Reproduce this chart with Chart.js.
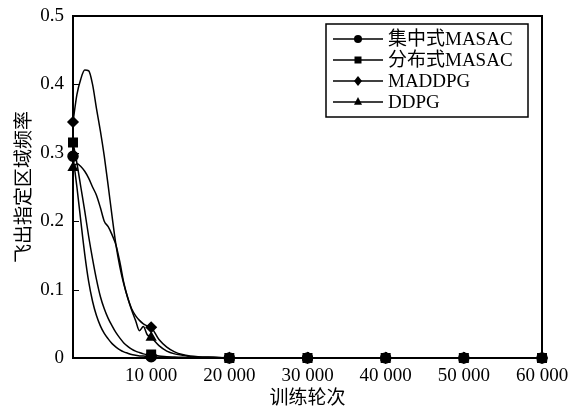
<!DOCTYPE html>
<html>
<head>
<meta charset="UTF-8">
<title>飞出指定区域频率</title>
<script src="https://cdn.jsdelivr.net/npm/chart.js@4.4.1/dist/chart.umd.min.js"></script>
<style>
    html, body { margin: 0; padding: 0; background: #fff; }
    #wrap { width: 568px; height: 409px; position: relative; }
</style>
</head>
<body>
<div id="wrap"><canvas id="freqChart"></canvas></div>
<script>
// 训练轮次
const rounds = [0, 500, 1000, 1500, 2000, 2500, 3000, 3500, 4000, 4500, 5000, 5500, 6000, 6500, 7000,
    7500, 8000, 8500, 9000, 9500, 10000, 11000, 12000, 13000, 14000, 15000, 16000, 18000, 20000,
    30000, 40000, 50000, 60000];

// 飞出指定区域频率
const centralMasac = [0.295, 0.25, 0.20, 0.152, 0.112, 0.083, 0.062, 0.047, 0.036, 0.028, 0.021, 0.016,
    0.012, 0.009, 0.007, 0.005, 0.004, 0.003, 0.003, 0.002, 0.002, 0.001, 0.001, 0.001, 0, 0, 0, 0, 0,
    0, 0, 0, 0];
const distMasac = [0.315, 0.285, 0.25, 0.215, 0.178, 0.145, 0.115, 0.09, 0.072, 0.058, 0.047, 0.037,
    0.029, 0.022, 0.017, 0.013, 0.01, 0.008, 0.006, 0.005, 0.005, 0.003, 0.002, 0.001, 0.001, 0, 0, 0, 0,
    0, 0, 0, 0];
const maddpg = [0.345, 0.385, 0.408, 0.421, 0.42, 0.4, 0.365, 0.332, 0.295, 0.252, 0.207, 0.165,
    0.133, 0.108, 0.088, 0.072, 0.062, 0.055, 0.05, 0.047, 0.045, 0.027, 0.016, 0.009, 0.005, 0.003,
    0.002, 0.001, 0, 0, 0, 0, 0];
const ddpg = [0.278, 0.284, 0.28, 0.273, 0.263, 0.25, 0.238, 0.22, 0.2, 0.192, 0.18, 0.165,
    0.14, 0.11, 0.088, 0.07, 0.055, 0.04, 0.046, 0.034, 0.03, 0.018, 0.01, 0.006, 0.004, 0.002,
    0.001, 0.001, 0, 0, 0, 0, 0];

const seriesNames = ['集中式MASAC', '分布式MASAC', 'MADDPG', 'DDPG'];
const seriesValues = [centralMasac, distMasac, maddpg, ddpg];
const markers = ['circle', 'rect', 'rectRot', 'triangle'];

const yTicks = [0, 0.1, 0.2, 0.3, 0.4, 0.5];
const yTickLabels = ['0', '0.1', '0.2', '0.3', '0.4', '0.5'];
const xTicks = [0, 10000, 20000, 30000, 40000, 50000, 60000];
const xTickLabels = ['', '10 000', '20 000', '30 000', '40 000', '50 000', '60 000'];

const serif = "'Liberation Serif', 'Times New Roman', serif";
const mixed = "'Liberation Serif', 'Noto Sans CJK SC', serif";

function markerSize(style) {
    return style === 'rect' ? 6 : 5;
}

// legend shapes, drawn by hand
function drawMarker(ctx, style, x, y, r) {
    ctx.beginPath();
    if (style === 'circle') {
        ctx.arc(x, y, r, 0, Math.PI * 2);
    } else if (style === 'rect') {
        ctx.rect(x - r, y - r, 2 * r, 2 * r);
    } else if (style === 'rectRot') {
        ctx.moveTo(x, y - r - 1); ctx.lineTo(x + r, y); ctx.lineTo(x, y + r + 1); ctx.lineTo(x - r, y);
        ctx.closePath();
    } else {
        ctx.moveTo(x, y - r - 1); ctx.lineTo(x + r, y + r * 0.7); ctx.lineTo(x - r, y + r * 0.7);
        ctx.closePath();
    }
    ctx.fill();
}

const framePlugin = {
    id: 'frame',
    beforeDatasetsDraw(chart) {
        const { ctx, chartArea: a, scales } = chart;
        ctx.save();
        ctx.strokeStyle = '#000';
        ctx.lineWidth = 2;
        ctx.strokeRect(a.left, a.top, a.right - a.left, a.bottom - a.top);
        // inward ticks
        ctx.lineWidth = 1;
        ctx.beginPath();
        yTicks.slice(1, -1).forEach(v => {
            const py = Math.round(scales.y.getPixelForValue(v)) + 0.5;
            ctx.moveTo(a.left, py); ctx.lineTo(a.left + 6, py);
        });
        xTicks.slice(1, -1).forEach(v => {
            const px = Math.round(scales.x.getPixelForValue(v)) + 0.5;
            ctx.moveTo(px, a.bottom); ctx.lineTo(px, a.bottom - 6);
        });
        ctx.stroke();
        ctx.restore();
    },
    afterDraw(chart) {
        const { ctx, chartArea: a } = chart;
        ctx.save();
        // axis titles
        ctx.fillStyle = '#000';
        ctx.textAlign = 'center';
        ctx.textBaseline = 'middle';
        ctx.font = "19px 'Noto Sans CJK SC', sans-serif";
        ctx.fillText('训练轮次', (a.left + a.right) / 2, 397);
        ctx.save();
        ctx.translate(22.5, (a.top + a.bottom) / 2);
        ctx.rotate(-Math.PI / 2);
        ctx.fillText('飞出指定区域频率', 0, 0);
        ctx.restore();

        // legend box
        const bx = 326, by = 24, bw = 202, bh = 93;
        ctx.fillStyle = '#fff';
        ctx.fillRect(bx, by, bw, bh);
        ctx.strokeStyle = '#000';
        ctx.lineWidth = 1.5;
        ctx.strokeRect(bx, by, bw, bh);
        ctx.textAlign = 'left';
        ctx.font = '19px ' + mixed;
        seriesNames.forEach((name, i) => {
            const y = 39 + i * 21;
            ctx.beginPath();
            ctx.lineWidth = 1.5;
            ctx.moveTo(333, y); ctx.lineTo(383, y);
            ctx.stroke();
            ctx.fillStyle = '#000';
            drawMarker(ctx, markers[i], 358, y, markers[i] === 'rect' ? 3.5 : 4);
            ctx.fillText(name, 388, y + 1);
        });
        ctx.restore();
    }
};

const datasets = seriesNames.map((name, i) => ({
    label: name,
    data: rounds.map((r, j) => ({ x: r, y: seriesValues[i][j] })),
    borderColor: '#000',
    backgroundColor: '#000',
    borderWidth: 1.5,
    cubicInterpolationMode: 'monotone',
    pointStyle: markers[i],
    pointRadius: c => (rounds[c.dataIndex] % 10000 === 0 ? markerSize(markers[i]) : 0),
    pointHoverRadius: 0,
    clip: false
}));

new Chart(document.getElementById('freqChart'), {
    type: 'line',
    data: { datasets },
    options: {
        responsive: true,
        maintainAspectRatio: false,
        animation: false,
        layout: { padding: { left: 0, right: 26, top: 16, bottom: 0 } },
        plugins: {
            legend: { display: false },
            tooltip: { enabled: false }
        },
        scales: {
            x: {
                type: 'linear',
                min: 0,
                max: 60000,
                afterBuildTicks: s => { s.ticks = xTicks.map(v => ({ value: v })); },
                afterFit: s => { s.height = 51; s.paddingLeft = 0; s.paddingRight = 0; },
                grid: { display: false, drawTicks: false, tickLength: 0 },
                border: { display: false },
                ticks: {
                    color: '#000',
                    padding: 7,
                    maxRotation: 0,
                    autoSkip: false,
                    font: { family: serif, size: 19 },
                    callback: v => xTickLabels[xTicks.indexOf(v)]
                }
            },
            y: {
                min: 0,
                max: 0.5,
                afterBuildTicks: s => { s.ticks = yTicks.map(v => ({ value: v })); },
                afterFit: s => { s.width = 73; s.paddingTop = 0; s.paddingBottom = 0; },
                grid: { display: false, drawTicks: false, tickLength: 0 },
                border: { display: false },
                ticks: {
                    color: '#000',
                    padding: 9,
                    font: { family: serif, size: 19 },
                    callback: (v, i) => yTickLabels[i]
                }
            }
        }
    },
    plugins: [framePlugin]
});
</script>
</body>
</html>
